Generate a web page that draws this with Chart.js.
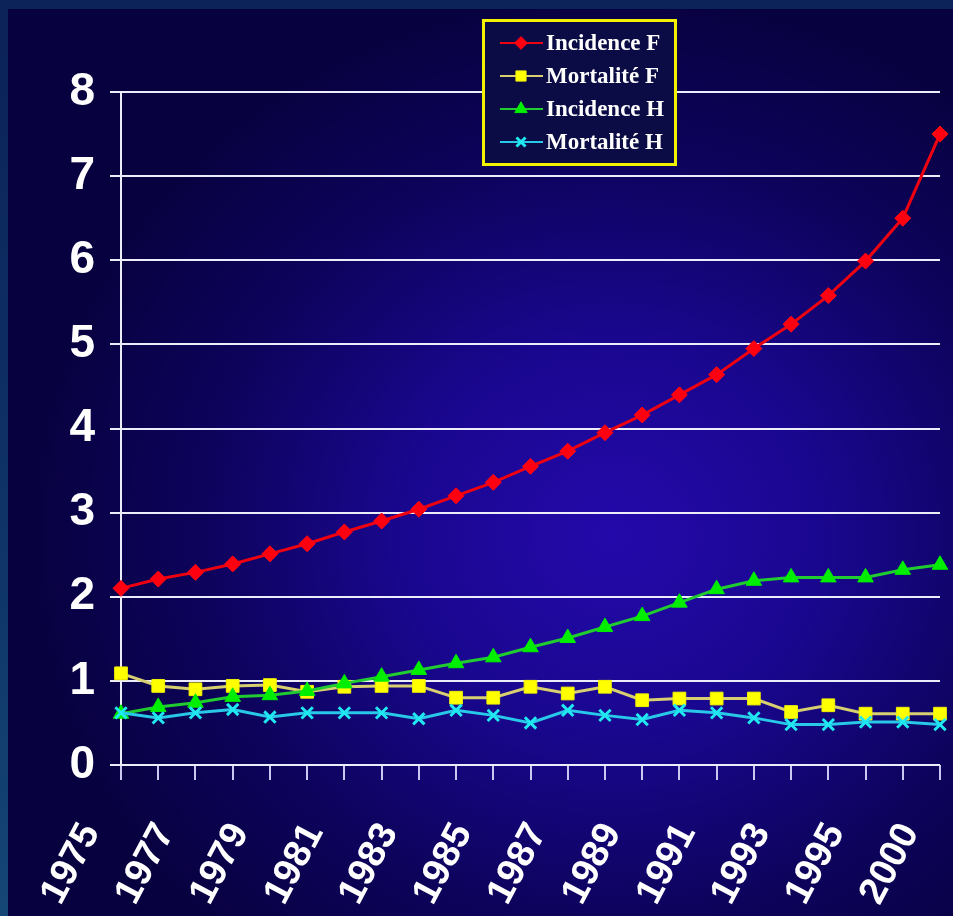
<!DOCTYPE html>
<html>
<head>
<meta charset="utf-8">
<script src="https://cdn.jsdelivr.net/npm/chart.js@4/dist/chart.umd.min.js"></script>
<style>
    body { margin: 0; background: linear-gradient(#0b2258, #0f3468 60%, #144676); }
    #wrap { position: relative; width: 953px; height: 916px; overflow: hidden; }
    #bg {
        position: absolute; left: 8px; top: 9px; right: 0; bottom: 0;
        background: radial-gradient(ellipse 62% 60% at 64% 58%, #2409aa 0%, #1a0790 35%, #0d035c 70%, #08013f 100%);
    }
    #myChart { position: absolute; left: 0; top: 0; }
</style>
</head>
<body>
<div id="wrap">
    <div id="bg"></div>
    <canvas id="myChart" width="953" height="916"></canvas>
</div>
<script>
const years = ['1975', '1976', '1977', '1978', '1979', '1980', '1981', '1982', '1983', '1984', '1985',
    '1986', '1987', '1988', '1989', '1990', '1991', '1992', '1993', '1994', '1995', '', '2000'];

const incidenceF = [2.10, 2.21, 2.29, 2.39, 2.51, 2.63, 2.77, 2.90, 3.04, 3.20, 3.36, 3.55,
    3.73, 3.95, 4.16, 4.40, 4.64, 4.95, 5.24, 5.58, 5.99, 6.50, 7.50];
const mortaliteF = [1.09, 0.94, 0.90, 0.94, 0.95, 0.87, 0.93, 0.94, 0.94, 0.80, 0.80, 0.93,
    0.85, 0.93, 0.77, 0.79, 0.79, 0.79, 0.63, 0.71, 0.61, 0.61, 0.61];
const incidenceH = [0.61, 0.69, 0.74, 0.81, 0.83, 0.88, 0.97, 1.05, 1.13, 1.21, 1.28, 1.40,
    1.51, 1.64, 1.77, 1.93, 2.09, 2.19, 2.23, 2.23, 2.23, 2.32, 2.38];
const mortaliteH = [0.62, 0.56, 0.62, 0.66, 0.57, 0.62, 0.62, 0.62, 0.55, 0.65, 0.59, 0.50,
    0.65, 0.59, 0.54, 0.65, 0.62, 0.56, 0.48, 0.48, 0.51, 0.51, 0.48];

const yTicks = [0, 1, 2, 3, 4, 5, 6, 7, 8];

const narrow = "'Liberation Sans Narrow', 'Arial Narrow', 'Liberation Sans', Arial, sans-serif";

// légende encadrée en jaune, posée sur la zone du graphique
const legendBox = {
    id: 'legendBox',
    afterDraw(chart) {
        const ctx = chart.ctx;
        const x = 482, y = 19, w = 195, h = 147;
        ctx.save();
        ctx.fillStyle = '#0b0b45';
        ctx.fillRect(x, y, w, h);
        ctx.lineWidth = 3;
        ctx.strokeStyle = '#f2f200';
        ctx.strokeRect(x + 1.5, y + 1.5, w - 3, h - 3);
        chart.data.datasets.forEach((ds, i) => {
            const cy = 43 + i * 33;
            ctx.strokeStyle = ds.borderColor;
            ctx.lineWidth = 2;
            ctx.beginPath();
            ctx.moveTo(500, cy);
            ctx.lineTo(543, cy);
            ctx.stroke();
            ctx.fillStyle = ds.pointBackgroundColor;
            ctx.strokeStyle = ds.pointBorderColor;
            ctx.lineWidth = ds.pointBorderWidth;
            Chart.helpers.drawPoint(ctx, { pointStyle: ds.pointStyle, radius: ds.pointRadius * 0.8, borderWidth: ds.pointBorderWidth }, 521, cy);
            ctx.fillStyle = '#ffffff';
            ctx.font = "bold 23px 'Liberation Serif', 'Times New Roman', serif";
            ctx.textBaseline = 'middle';
            ctx.fillText(ds.label, 546, cy + 1);
        });
        ctx.restore();
    }
};

const ctx = document.getElementById('myChart').getContext('2d');

new Chart(ctx, {
    type: 'line',
    data: {
        labels: years,
        datasets: [
            {
                label: 'Incidence F',
                data: incidenceF,
                borderColor: '#ee0010',
                borderWidth: 3,
                pointStyle: 'rectRot',
                pointRadius: 8,
                pointBackgroundColor: '#ff0010',
                pointBorderColor: '#ff0010',
                pointBorderWidth: 1,
                order: 4,
                clip: false
            },
            {
                label: 'Mortalité F',
                data: mortaliteF,
                borderColor: '#d8d070',
                borderWidth: 3,
                pointStyle: 'rect',
                pointRadius: 9,
                pointBackgroundColor: '#ffff00',
                pointBorderColor: '#f0f000',
                pointBorderWidth: 1,
                order: 3,
                clip: false
            },
            {
                label: 'Incidence H',
                data: incidenceH,
                borderColor: '#20cc30',
                borderWidth: 3,
                pointStyle: 'triangle',
                pointRadius: 9,
                pointBackgroundColor: '#00ee00',
                pointBorderColor: '#00ee00',
                pointBorderWidth: 1,
                order: 2,
                clip: false
            },
            {
                label: 'Mortalité H',
                data: mortaliteH,
                borderColor: '#28c8e8',
                borderWidth: 3,
                pointStyle: 'crossRot',
                pointRadius: 8,
                pointBackgroundColor: '#20e8f0',
                pointBorderColor: '#20e8f0',
                pointBorderWidth: 3,
                order: 1,
                clip: false
            }
        ]
    },
    options: {
        responsive: false,
        animation: false,
        layout: { padding: { top: 92, right: 13, left: 0, bottom: 0 } },
        scales: {
            x: {
                offset: false,
                afterFit(scale) {
                    scale.height = 151;
                    scale.paddingLeft = 0;
                    scale.paddingRight = 0;
                },
                grid: {
                    drawOnChartArea: false,
                    drawTicks: true,
                    tickLength: 15,
                    color: '#c8c8f0',
                    lineWidth: 2
                },
                border: { display: false },
                ticks: {
                    autoSkip: false,
                    maxRotation: 62,
                    minRotation: 62,
                    padding: 36,
                    labelOffset: -30,
                    color: '#ffffff',
                    font: { family: "'Liberation Sans', Arial, sans-serif", weight: 'bold', size: 38 },
                    callback: function (value, index) {
                        return index % 2 === 0 ? years[index] : '';
                    }
                }
            },
            y: {
                min: 0,
                max: 8,
                afterFit(scale) {
                    scale.width = 121;
                },
                afterBuildTicks(scale) {
                    scale.ticks = yTicks.map(v => ({ value: v }));
                },
                grid: {
                    color: '#ececfa',
                    lineWidth: 2,
                    tickLength: 11,
                    drawTicks: true
                },
                border: { display: true, color: '#ececfa', width: 2 },
                ticks: {
                    padding: 15,
                    color: '#ffffff',
                    font: { family: narrow, weight: 'bold', size: 46 }
                }
            }
        },
        plugins: {
            legend: { display: false },
            tooltip: { enabled: false }
        }
    },
    plugins: [legendBox]
});
</script>
</body>
</html>
